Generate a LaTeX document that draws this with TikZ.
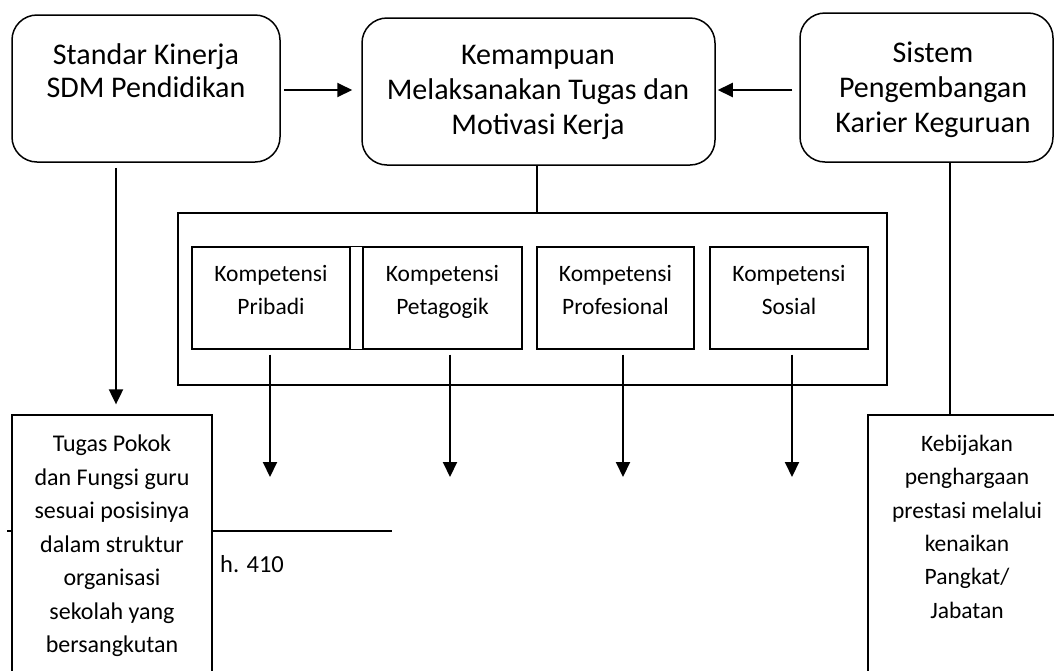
\documentclass[tikz,border=0pt]{standalone}
\usepackage{fontspec}
\setmainfont{Carlito}
\usetikzlibrary{arrows.meta}
\begin{document}
\begin{tikzpicture}[x=1pt,y=-1pt,
  rbox/.style={draw,line width=1.5pt,rounded corners=25pt,inner sep=0pt},
  sbox/.style={draw,line width=1.3pt,inner sep=0pt,fill=white},
  txt/.style={inner sep=0pt,align=center,anchor=north},
  big/.style={txt,font=\fontsize{30}{35}\selectfont},
  mid/.style={txt,font=\fontsize{23.5}{33}\selectfont},
  sml/.style={txt,font=\fontsize{24}{33.5}\selectfont},
  arr/.style={line width=2pt,-{Triangle[length=15pt,width=14pt]}},
  ln/.style={line width=1.5pt}]
\useasboundingbox (0,0) rectangle (1054,670);
\clip (0,0) rectangle (1054,670);
% top boxes
\node[rbox,minimum width=268pt,minimum height=147pt] (b1) at (146,88.5) {};
\node[big,font=\fontsize{30}{33}\selectfont] (t1) at (146,43) {Standar Kinerja\\SDM Pendidikan};
\node[rbox,minimum width=353pt,minimum height=147pt] (b2) at (538.5,91.5) {};
\node[big] (t2) at (538,45) {Kemampuan\\Melaksanakan Tugas dan\\Motivasi Kerja};
\node[rbox,minimum width=253pt,minimum height=149pt] (b3) at (926.5,87.5) {};
\node[big] (t3) at (933,42) {Sistem\\Pengembangan\\Karier Keguruan};
% horizontal arrows
\draw[arr] ([xshift=3pt]b1.east |- 0,90) -- ([xshift=-9pt]b2.west |- 0,90);
\draw[arr] ([xshift=-7pt]b3.west |- 0,90) -- ([xshift=2pt]b2.east |- 0,90);
% outer frame
\node[draw,line width=1.3pt,inner sep=0pt,minimum width=709pt,minimum height=172pt] (fr) at (532.5,299) {};
\draw[ln] (b2.south -| 537,0) -- (fr.north -| 537,0);
% competency boxes
\node[sbox,minimum width=158pt,minimum height=102pt] (cA) at (271,298) {};
\node[sbox,minimum width=159pt,minimum height=102pt] (cB) at (442.5,298) {};
\node[sbox,minimum width=157pt,minimum height=102pt] (cC) at (615.5,298) {};
\node[sbox,minimum width=158pt,minimum height=102pt] (cD) at (789,298) {};
\draw[line width=1.3pt] (cA.north east) rectangle (cB.south west);
\node[mid] (tA) at (271,265) {Kompetensi\\Pribadi};
\node[mid] (tB) at (442.5,265) {Kompetensi\\Petagogik};
\node[mid] (tC) at (615.5,265) {Kompetensi\\Profesional};
\node[mid] (tD) at (789,265) {Kompetensi\\Sosial};
% down arrows from competencies
\coordinate (eA) at (270,477);
\coordinate (eB) at (450,477);
\coordinate (eC) at (623,477);
\coordinate (eD) at (792,477);
\draw[arr] ([yshift=-5pt]cA.south -| eA) -- (eA);
\draw[arr] ([yshift=-5pt]cB.south -| eB) -- (eB);
\draw[arr] ([yshift=-5pt]cC.south -| eC) -- (eC);
\draw[arr] ([yshift=-5pt]cD.south -| eD) -- (eD);
% footnote line and text
\coordinate (fl) at (7,531);
\coordinate (fr2) at (392,531);
\draw[line width=1.3pt] (fl) -- (fr2);
\node[inner sep=0pt,font=\fontsize{24.5}{28}\selectfont,anchor=north west] (fn) at (220,555) {h. 410};
% bottom boxes
\node[sbox,minimum width=200pt,minimum height=285pt] (bl) at (112,557.5) {};
\node[sml] (tl) at (112,435) {Tugas Pokok\\dan Fungsi guru\\sesuai posisinya\\dalam struktur\\organisasi\\sekolah yang\\bersangkutan};
\node[sbox,minimum width=198pt,minimum height=285pt] (br) at (967,557.5) {};
\node[sml,font=\fontsize{23.5}{33.3}\selectfont] (tr) at (967,435) {Kebijakan\\penghargaan\\prestasi melalui\\kenaikan\\Pangkat/\\Jabatan};
% vertical connectors
\coordinate (lx) at (116,0);
\coordinate (rx) at (950,0);
\draw[arr] ([yshift=-5pt]b1.south -| lx) -- ([yshift=10pt]bl.north -| lx);
\draw[ln] (b3.south -| rx) -- (br.north -| rx);
\end{tikzpicture}
\end{document}
